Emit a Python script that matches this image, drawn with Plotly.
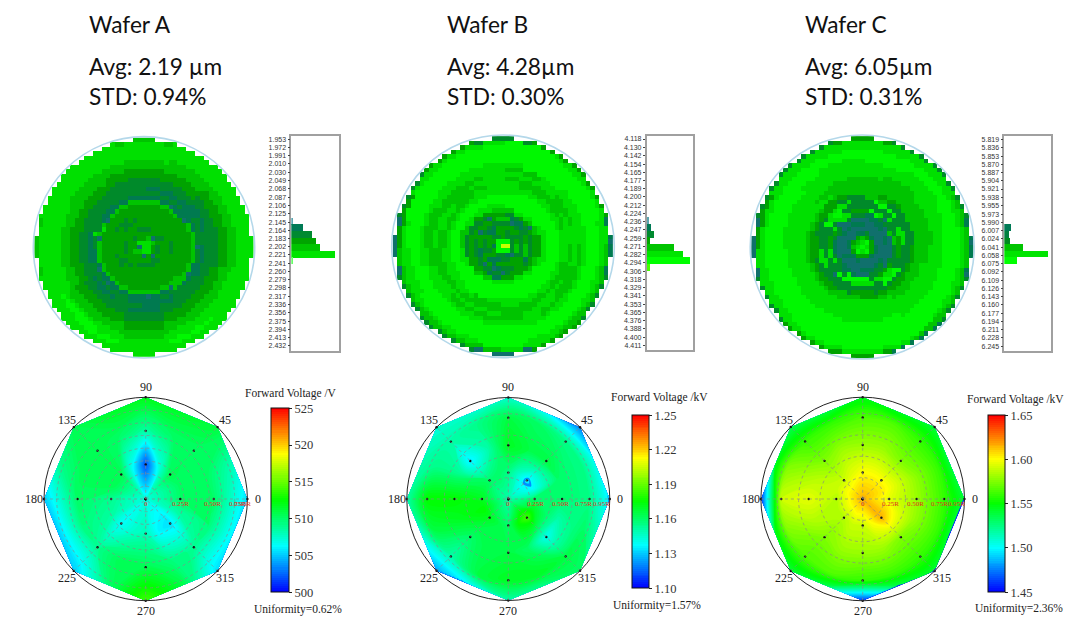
import numpy as np
import plotly.graph_objects as go

WIDTH, HEIGHT = 1080, 642
SERIF = "Liberation Serif"
CALIBRI_LIKE = "Lato"

# colour of each map level, dark teal up to the yellow hot spot
level_colors = ["#10706c", "#007a50", "#008a2a", "#00a200", "#00c400", "#00e000", "#00f800", "#c8ff00"]
rainbow = [[0, "#0000ff"], [0.25, "#00ffff"], [0.5, "#00ff00"], [0.75, "#ffff00"], [1, "#ff0000"]]

headers_a = ["Wafer A", "Avg: 2.19 µm", "STD: 0.94%"]
headers_b = ["Wafer B", "Avg: 4.28µm", "STD: 0.30%"]
headers_c = ["Wafer C", "Avg: 6.05µm", "STD: 0.31%"]

# thickness map levels, one string per 30 degree sector starting east, one digit per cell of radius
map_a = ["4532332333342122233445555", "4543233333341212233445555", "3542333333412122334445555",
         "4433233333412122334455554", "4533332333412222334455555", "4532333233412223344455555",
         "4533233333421223344555554", "4343332333412223344555555", "4433323333412122334456655",
         "4353233333411212233445555", "4533233333412122334455655", "4532333333341222334455555"]
map_b = ["7624242335666554545666541", "7623232345666545455666653", "7622321356666544556666653",
         "6632324246665554545666662", "6623123335665545455666653", "6632323225665454455666652",
         "7643232324665445445666530", "7632312335665544556665542", "7623132346666545456666542",
         "7621312156665445456666640", "7612323356666544555666553", "7621232346666545445666542"]
map_c = ["6531000232234445556666541", "6430010425224444555666542", "5631001252623444455566552",
         "6542000132244444555666553", "6531010252523444555566552", "6430012526234555556666552",
         "6541001322334555556666530", "6430102525234555566666552", "5631001262234555566666653",
         "6531000652345555566666653", "6430012252234555566666651", "5631010326234455556666542"]

# single cells that stand out from their ring: column, row (from the wafer centre, north positive), level
specks_a = [(2, 2, 0), (2, -2, 0), (0, -2, 0), (-1, 0, 0), (6, 9, 0), (9, 6, 0), (12, 0, 0), (10, -6, 0), (6, -9, 0),
            (1, -11, 0), (-8, 6, 0), (-10, 2, 0), (-10, -5, 0), (-8, -8, 0), (-11, 3, 5), (-9, 4, 5), (0, 0, 5), (1, 0, 5)]
specks_b = [(1, 0, 7), (0, 1, 6), (-1, 1, 6), (-2, 0, 1), (2, -2, 0), (-3, 6, 0), (6, 4, 0), (-5, 3, 0), (-4, -4, 0),
            (-2, -5, 0), (0, -6, 0), (5, -3, 1), (2, 5, 0), (24, 1, 0), (-24, 0, 0), (0, -24, 0), (1, -24, 0), (-1, -24, 0)]
specks_c = [(0, 1, 5), (1, 0, 5), (-1, 0, 5), (0, -1, 5), (-7, 6, 5), (3, 7, 6), (2, 8, 6), (-5, 5, 0), (5, 6, 0),
            (-6, -6, 0), (6, -5, 5), (-1, -7, 6), (0, -7, 6), (1, -7, 6), (24, 1, 0), (-24, 1, 0), (-23, 5, 0), (23, -6, 0)]

# histogram ticks and bars
hist_ticks_a = ["1.953", "1.972", "1.991", "2.010", "2.030", "2.049", "2.068", "2.087", "2.106", "2.125", "2.145",
                "2.164", "2.183", "2.202", "2.221", "2.241", "2.260", "2.279", "2.298", "2.317", "2.336", "2.356",
                "2.375", "2.394", "2.413", "2.432"]
hist_ticks_b = ["4.118", "4.130", "4.142", "4.154", "4.165", "4.177", "4.189", "4.200", "4.212", "4.224", "4.236",
                "4.247", "4.259", "4.271", "4.282", "4.294", "4.306", "4.318", "4.329", "4.341", "4.353", "4.365",
                "4.376", "4.388", "4.400", "4.411"]
hist_ticks_c = ["5.819", "5.836", "5.853", "5.870", "5.887", "5.904", "5.921", "5.938", "5.955", "5.973", "5.990",
                "6.007", "6.024", "6.041", "6.058", "6.075", "6.092", "6.109", "6.126", "6.143", "6.160", "6.177",
                "6.194", "6.211", "6.228", "6.245"]
hist_bins_a = [2.1434, 2.158, 2.1736, 2.189, 2.2045, 2.220, 2.2347]
hist_counts_a = [4, 36, 62, 75, 85, 130, 4]
hist_colors_a = ["#5aa5b0", "#007a55", "#008a30", "#00a400", "#00c400", "#00e400", "#66ff66"]
hist_bins_b = [4.2338, 4.2435, 4.2529, 4.2619, 4.2714, 4.281, 4.2905, 4.2999]
hist_counts_b = [4, 13, 22, 10, 82, 108, 130, 9]
hist_colors_b = ["#5aa5b0", "#007a55", "#008a30", "#00a400", "#00c400", "#00e400", "#00ff00", "#44ff00"]
hist_bins_c = [6.001, 6.0148, 6.0285, 6.0423, 6.0557, 6.0691]
hist_counts_c = [22, 14, 18, 57, 130, 40]
hist_colors_c = ["#007a55", "#008040", "#008a20", "#00c400", "#00e400", "#00ff00"]

# forward voltage read off the discs: one row per angle, one column per radius (first column is the centre point).
# Rows at the odd angles sit between the measured spokes, their last column is on the octagon side.
# Inner minima are kept just under a contour level: the carpet fill leaves the inside of the last closed loop dark.
polar_angles = [0, 22.5, 45, 67.5, 90, 112.5, 135, 157.5, 180, 202.5, 225, 247.5, 270, 292.5, 315, 337.5]
radii_a = [0, 0.34, 0.67, 1.0]
volts_a = [[507, 510, 510, 505.5], [507, 510, 510, 508], [507, 510.5, 510, 511], [507, 507, 510, 511.5],
           [507, 501.94, 508.5, 512], [507, 506.5, 510, 511.5], [507, 510.5, 510.5, 510.5], [507, 510.5, 510.5, 509],
           [507, 509, 510, 505], [507, 508.5, 509.5, 505], [507, 506.38, 509, 505], [507, 507.5, 510.5, 510],
           [507, 508, 510.5, 514], [507, 506, 509.5, 511], [507, 505.55, 509, 505.5], [507, 508.5, 509.5, 506]]
radii_b = [0, 0.26, 0.53, 0.8, 1.0]
volts_b = [[1.15, 1.16, 1.16, 1.155, 1.135], [1.15, 1.138, 1.16, 1.155, 1.14], [1.15, 1.1333, 1.165, 1.155, 1.12],
           [1.15, 1.145, 1.165, 1.16, 1.14], [1.15, 1.155, 1.17, 1.165, 1.145], [1.15, 1.16, 1.15, 1.155, 1.145],
           [1.15, 1.16, 1.1349, 1.15, 1.145], [1.15, 1.165, 1.16, 1.155, 1.15], [1.15, 1.17, 1.175, 1.175, 1.15],
           [1.15, 1.175, 1.17, 1.165, 1.145], [1.15, 1.17, 1.16, 1.15, 1.125], [1.15, 1.165, 1.165, 1.165, 1.14],
           [1.15, 1.16, 1.165, 1.17, 1.15], [1.15, 1.175, 1.16, 1.17, 1.155], [1.15, 1.185, 1.1399, 1.165, 1.16],
           [1.15, 1.17, 1.15, 1.16, 1.15]]
radii_c = [0, 0.26, 0.53, 0.8, 1.0]
volts_c = [[1.615, 1.595, 1.58, 1.56, 1.54], [1.615, 1.60, 1.58, 1.56, 1.54], [1.615, 1.60, 1.575, 1.56, 1.54],
           [1.615, 1.60, 1.58, 1.565, 1.545], [1.615, 1.60, 1.58, 1.565, 1.545], [1.615, 1.595, 1.58, 1.56, 1.54],
           [1.615, 1.59, 1.575, 1.56, 1.535], [1.615, 1.59, 1.585, 1.575, 1.545], [1.615, 1.585, 1.595, 1.59, 1.46],
           [1.615, 1.585, 1.585, 1.575, 1.545], [1.615, 1.585, 1.575, 1.565, 1.54], [1.615, 1.59, 1.58, 1.565, 1.535],
           [1.615, 1.59, 1.58, 1.56, 1.46], [1.615, 1.60, 1.58, 1.56, 1.535], [1.615, 1.615, 1.575, 1.56, 1.54],
           [1.615, 1.605, 1.58, 1.56, 1.54]]

bar_ticks_a = [500, 505, 510, 515, 520, 525]
bar_ticks_b = [1.10, 1.13, 1.16, 1.19, 1.22, 1.25]
bar_ticks_c = [1.45, 1.50, 1.55, 1.60, 1.65]
bar_labels_a = ["500", "505", "510", "515", "520", "525"]
bar_labels_b = ["1.10", "1.13", "1.16", "1.19", "1.22", "1.25"]
bar_labels_c = ["1.45", "1.50", "1.55", "1.60", "1.65"]
voltage_titles = ["Forward Voltage /V", "Forward Voltage /kV", "Forward Voltage /kV"]
uniformity = ["Uniformity=0.62%", "Uniformity=1.57%", "Uniformity=2.36%"]
radius_labels = ["0", "0.25R", "0.50R", "0.75R", "0.95R"]

# page layout in pixels, kept apart from the data
panels = [
    dict(text_x=87, map_c=(144, 247.3), map_r=110.7, hist=(291.3, 338.7, 136, 350.7),
         polar_c=(145.7, 499), polar_r=101.7, bar=(270.7, 288.3, 408.3, 592.3),
         title_pos=(291, 393.7), uni_pos=(297.7, 609.3),
         rings=[0.125, 0.25, 0.375, 0.5, 0.625, 0.75, 0.875], label_r=[0, 0.34, 0.655, 0.90, 0.955]),
    dict(text_x=445, map_c=(503, 246.3), map_r=111.3, hist=(646.7, 693.3, 135.7, 350),
         polar_c=(508.3, 499), polar_r=101.5, bar=(632.3, 649.3, 415, 588.3),
         title_pos=(659.3, 397.7), uni_pos=(656.7, 605),
         rings=[0.21, 0.42, 0.63, 0.84], label_r=[0, 0.27, 0.51, 0.745, 0.92]),
    dict(text_x=803, map_c=(862.2, 247), map_r=112, hist=(1004.3, 1051.3, 136.3, 351),
         polar_c=(862.7, 499), polar_r=101.8, bar=(988.3, 1005.7, 415, 592.3),
         title_pos=(1015.3, 399), uni_pos=(1018.7, 608.3),
         rings=[0.21, 0.42, 0.63, 0.84], label_r=[0, 0.27, 0.52, 0.75, 0.92]),
]

fig = go.Figure()
axis_count = 1


def new_axes(x0, x1, y0, y1, xrange, yrange):
    """Add a pair of hidden axes that cover the given pixel box, return their ids."""
    global axis_count
    axis_count += 1
    n = axis_count
    common = dict(visible=False, showgrid=False, zeroline=False, fixedrange=True)
    fig.layout[f"xaxis{n}"] = dict(domain=[x0 / WIDTH, x1 / WIDTH], range=xrange, anchor=f"y{n}", **common)
    fig.layout[f"yaxis{n}"] = dict(domain=[1 - y1 / HEIGHT, 1 - y0 / HEIGHT], range=yrange, anchor=f"x{n}", **common)
    return f"x{n}", f"y{n}"


def add_text(text, x, y, size, font=SERIF, color="#222222", xanchor="center"):
    fig.add_annotation(text=text, x=x / WIDTH, y=1 - y / HEIGHT, xref="paper", yref="paper", showarrow=False,
                       xanchor=xanchor, yanchor="middle", font=dict(family=font, size=size, color=color))


def add_map(levels, specks, panel):
    """Wafer map: each square cell takes the level of its sector and radius, single cells come from the speck list."""
    cx, cy = panel["map_c"]
    pitch = panel["map_r"] / 24.76
    half = 25.5 * pitch
    xa, ya = new_axes(cx - half, cx + half, cy - half, cy + half, [-25.5, 25.5], [-25.5, 25.5])
    cells = np.arange(-24, 25)
    special = {(i, j): level for i, j, level in specks}
    z = []
    for j in cells:
        row = []
        for i in cells:
            if i * i + j * j > 582:
                row.append(None)
                continue
            ring = min(int(round(np.hypot(i, j))), 24)
            # odd rings sit half a sector round, so the sectors do not line up into spokes
            sector = int(round((np.degrees(np.arctan2(j, i)) + 15 * (ring % 2)) / 30)) % 12
            row.append(special.get((int(i), int(j)), int(levels[sector][ring])))
        z.append(row)
    steps = len(level_colors)
    scale = []
    for k, c in enumerate(level_colors):
        scale += [[k / steps, c], [(k + 1) / steps, c]]
    fig.add_trace(go.Heatmap(x=cells, y=cells, z=z, zmin=0, zmax=steps, colorscale=scale, showscale=False,
                             hoverongaps=False, xaxis=xa, yaxis=ya))
    fig.add_shape(type="circle", xref=xa, yref=ya, x0=-24.76, x1=24.76, y0=-24.76, y1=24.76,
                  line=dict(color="#b4d8ea", width=1.6))


def add_hist(ticks, bins, counts, colors, panel):
    x0, x1, y0, y1 = panel["hist"]
    values = [float(t) for t in ticks]
    step = (values[-1] - values[0]) / (len(values) - 1)
    # box starts about 0.4 of a tick above the first label and ends 0.6 below the last
    yrange = [values[-1] + 0.6 * step, values[0] - 0.4 * step]
    xa, ya = new_axes(x0, x1, y0, y1, [0, 140], yrange)
    fig.layout[xa.replace("x", "xaxis")].update(visible=True, showticklabels=False, ticks="",
                                                showline=True, mirror=True, linecolor="#a0a0a0", linewidth=1.6)
    fig.layout[ya.replace("y", "yaxis")].update(visible=True, tickmode="array", tickvals=values, ticktext=ticks,
                                                ticks="outside", ticklen=2, tickcolor="#444444",
                                                tickfont=dict(family="Liberation Sans", size=7, color="#333333"),
                                                showline=True, mirror=True, linecolor="#a0a0a0", linewidth=1.6)
    width = float(np.median(np.diff(bins)))
    fig.add_trace(go.Bar(x=counts, y=bins, orientation="h", width=width, marker=dict(color=colors, line_width=0),
                         showlegend=False, xaxis=xa, yaxis=ya))


def add_polar(radii, volts, ticks, labels, cid, panel):
    """Forward voltage disc, the fill between the points is done by a contour carpet."""
    cx, cy = panel["polar_c"]
    pr = panel["polar_r"]
    pad = 1.03
    xa, ya = new_axes(cx - pr * pad, cx + pr * pad, cy - pr * pad, cy + pr * pad, [-pad, pad], [-pad, pad])
    angles = np.array(polar_angles + [360], dtype=float)
    z = np.array(volts + [volts[0]], dtype=float)
    rr, tt = np.meshgrid(radii, np.radians(angles))
    # the outer edge is an octagon, so the in-between rows end on its flat sides
    rr[1::2, -1] *= np.cos(np.radians(22.5))
    xx, yy = rr * np.cos(tt), rr * np.sin(tt)
    off = dict(showgrid=False, showline=False, showticklabels="none", startline=False, endline=False,
               minorgridcount=0, smoothing=0)
    fig.add_trace(go.Carpet(a=radii, b=angles, x=xx, y=yy, carpet=cid, aaxis=off, baxis=off, xaxis=xa, yaxis=ya))
    x0, x1, y0, y1 = panel["bar"]
    span = ticks[-1] - ticks[0]
    fig.add_trace(go.Contourcarpet(
        a=radii, b=angles, z=z, carpet=cid, xaxis=xa, yaxis=ya, colorscale=rainbow, zauto=False,
        zmin=ticks[0], zmax=ticks[-1], autocontour=False,
        contours=dict(start=ticks[0], end=ticks[-1], size=span / 90, coloring="fill", showlines=False),
        line=dict(width=0),
        colorbar=dict(x=x0 / WIDTH, xanchor="left", y=1 - (y0 + y1) / 2 / HEIGHT, yanchor="middle", lenmode="pixels",
                      len=y1 - y0, thicknessmode="pixels", thickness=x1 - x0, tickmode="array", tickvals=ticks,
                      ticktext=labels, ticks="outside", ticklen=3, tickcolor="#222222", outlinecolor="#111111",
                      outlinewidth=1, xpad=0, ypad=0,
                      tickfont=dict(family=SERIF, size=12.5, color="#333333"))))
    for r in panel["rings"]:
        fig.add_shape(type="circle", xref=xa, yref=ya, x0=-r, x1=r, y0=-r, y1=r,
                      line=dict(color="#8a8a8a", width=0.7, dash="dot"))
    spokes = polar_angles[::2]
    for a in spokes[:4]:
        c, s = np.cos(np.radians(a)), np.sin(np.radians(a))
        fig.add_shape(type="line", xref=xa, yref=ya, x0=-c, x1=c, y0=-s, y1=s,
                      line=dict(color="#8a8a8a", width=0.7, dash="dot"))
    fig.add_shape(type="circle", xref=xa, yref=ya, x0=-1, x1=1, y0=-1, y1=1, line=dict(color="#222222", width=1))
    # measuring points only on the eight spokes
    fig.add_trace(go.Scatter(x=xx[:-1:2].ravel(), y=yy[:-1:2].ravel(), mode="markers",
                             marker=dict(color="#111111", size=2.4), showlegend=False, xaxis=xa, yaxis=ya))
    for a in spokes:
        add_text(str(a), cx + 1.1 * pr * np.cos(np.radians(a)), cy - 1.1 * pr * np.sin(np.radians(a)), 12)
    for text, r in zip(radius_labels, panel["label_r"]):
        add_text(text, cx + r * pr, cy + 5, 7, color="#e03020")


wafers = [
    (headers_a, map_a, specks_a, hist_ticks_a, hist_bins_a, hist_counts_a, hist_colors_a, radii_a, volts_a, bar_ticks_a, bar_labels_a),
    (headers_b, map_b, specks_b, hist_ticks_b, hist_bins_b, hist_counts_b, hist_colors_b, radii_b, volts_b, bar_ticks_b, bar_labels_b),
    (headers_c, map_c, specks_c, hist_ticks_c, hist_bins_c, hist_counts_c, hist_colors_c, radii_c, volts_c, bar_ticks_c, bar_labels_c),
]

for idx, (wafer, panel) in enumerate(zip(wafers, panels)):
    headers, levels, specks, ticks, bins, counts, colors, radii, volts, bar_ticks, bar_labels = wafer
    for text, y in zip(headers, [24, 66, 97]):
        add_text(text, panel["text_x"], y, 22.7, font=CALIBRI_LIKE, color="#111111", xanchor="left")
    add_map(levels, specks, panel)
    add_hist(ticks, bins, counts, colors, panel)
    add_polar(radii, volts, bar_ticks, bar_labels, f"carpet{idx}", panel)
    add_text(voltage_titles[idx], *panel["title_pos"], 11.5)
    add_text(uniformity[idx], *panel["uni_pos"], 11.5)

fig.update_layout(width=WIDTH, height=HEIGHT, autosize=False, margin=dict(l=0, r=0, t=0, b=0),
                  paper_bgcolor="white", plot_bgcolor="rgba(0,0,0,0)", showlegend=False, bargap=0)

fig.write_html("out.html", config={"displayModeBar": False}, post_script="document.body.style.margin='0';")
